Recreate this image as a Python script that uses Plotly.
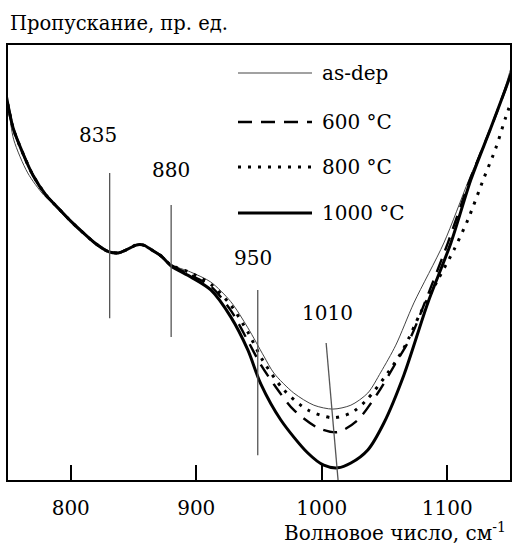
import plotly.graph_objects as go

# ---- data (wavenumber, cm^-1 ; transmittance, arb. units) ----
wn_asdep = [747, 750.6, 754.6, 765.7, 778.5, 790, 800, 810, 820, 830, 838, 845, 852, 858, 865, 872, 880,
            895.6, 911.6, 927.5, 941.1, 953.8, 961.8, 977.7, 993.7, 1008.8, 1023.2, 1036.7, 1047.1,
            1059.0, 1073.4, 1097.3, 1117.2, 1134.7, 1146.7, 1151]
tr_asdep = [91.0, 85.1, 78.2, 70.6, 65.5, 62.5, 59.5, 56.8, 54.3, 52.5, 52.2, 53.0, 54.0, 54.0, 52.8, 51.5, 49.5,
            47.8, 45.5, 41.0, 35.0, 28.5, 24.6, 20.0, 17.2, 16.3, 17.2, 20.0, 24.8,
            31.0, 40.7, 54.5, 69.0, 80.9, 90.8, 95.0]

wn_600 = [747, 754, 762, 770, 780, 790, 800, 810, 820, 830, 838, 845, 852, 858, 865, 872, 880,
          893, 911.6, 927.5, 941.1, 951.4, 961.8, 977.7, 996.9, 1012.8, 1028.7, 1044.7, 1059.0,
          1071.0, 1082.0, 1100.5, 1118.0, 1134.7, 1146.7, 1151]
tr_600 = [91.0, 81.0, 75.0, 70.0, 65.6, 62.5, 59.5, 56.8, 54.3, 52.5, 52.2, 53.0, 54.0, 54.0, 52.8, 51.5, 49.4,
          47.5, 44.5, 39.0, 32.0, 26.5, 22.0, 16.1, 12.0, 11.0, 13.8, 20.0, 26.9,
          32.9, 40.7, 54.5, 69.0, 80.9, 90.1, 93.5]

wn_800 = [747, 754, 762, 770, 780, 790, 800, 810, 820, 830, 838, 845, 852, 858, 865, 872, 880,
          895.6, 911.6, 927.5, 941.1, 953.0, 969.8, 988.9, 1008.8, 1023.2, 1035.1, 1052.6, 1065.4,
          1079.0, 1092.5, 1105.3, 1116.4, 1129.2, 1138.7, 1146.7, 1151]
tr_800 = [91.0, 81.0, 75.0, 70.0, 65.6, 62.5, 59.5, 56.8, 54.3, 52.5, 52.2, 53.0, 54.0, 54.0, 52.8, 51.5, 49.4,
          47.6, 45.0, 40.2, 34.0, 27.5, 20.7, 16.1, 14.3, 15.4, 18.2, 24.6, 30.3,
          38.6, 46.0, 52.9, 59.8, 69.4, 76.3, 83.5, 87.0]

wn_1000 = [747, 754, 762, 770, 780, 790, 800, 810, 820, 830, 838, 845, 852, 858, 865, 872, 880,
           895.6, 911.6, 927.5, 941.1, 951.4, 967.4, 988.9, 1001.6, 1012.8, 1023.2, 1036.7, 1049.5,
           1065.4, 1084.5, 1102.9, 1118.8, 1134.7, 1146.7, 1151]
tr_1000 = [91.0, 81.0, 75.0, 70.0, 65.6, 62.5, 59.5, 56.8, 54.3, 52.5, 52.2, 53.0, 54.0, 54.0, 52.8, 51.5, 49.2,
           46.7, 43.7, 37.5, 29.9, 22.1, 13.8, 6.2, 3.4, 2.8, 3.9, 6.9, 13.1,
           24.1, 40.7, 54.5, 69.0, 80.9, 90.1, 93.5]

# peak marker lines
peak_labels = ["835", "880", "950", "1010"]
peak_x_top = [831, 880, 949, 1003.5]
peak_x_bot = [831, 880, 949, 1013]
peak_y_top = [70.6, 63.2, 43.7, 31.5]
peak_y_bot = [37.2, 32.9, 5.7, 0.0]
label_x = [821.5, 879.7, 945.1, 1004.8]
label_y = [79.3, 71.3, 51.0, 38.4]

x_ticks = [800, 900, 1000, 1100]
series_names = ["as-dep", "600 °C", "800 °C", "1000 °C"]

FONT = "DejaVu Serif"
FS = 20

fig = go.Figure()

styles = [
    dict(color="#444444", width=1.0, dash="solid"),
    dict(color="#000000", width=2.4, dash="14px,9px"),
    dict(color="#000000", width=3.0, dash="3px,7px"),
    dict(color="#000000", width=3.0, dash="solid"),
]
data = [(wn_asdep, tr_asdep), (wn_600, tr_600), (wn_800, tr_800), (wn_1000, tr_1000)]
for (xs, ys), st, nm in zip(data, styles, series_names):
    fig.add_trace(go.Scatter(x=xs, y=ys, mode="lines", name=nm,
                             line=dict(color=st["color"], width=st["width"], dash=st["dash"],
                                       shape="spline", smoothing=0.8),
                             showlegend=False, hoverinfo="skip"))

for xt, xb, yt, yb in zip(peak_x_top, peak_x_bot, peak_y_top, peak_y_bot):
    fig.add_trace(go.Scatter(x=[xt, xb], y=[yt, yb], mode="lines",
                             line=dict(color="#555555", width=1.3),
                             showlegend=False, hoverinfo="skip"))

for lab, lx, ly in zip(peak_labels, label_x, label_y):
    fig.add_annotation(x=lx, y=ly, text=lab, showarrow=False,
                       font=dict(family=FONT, size=FS, color="black"))

# manual legend
L = 8
W = 502
Hh = 435
leg_x0 = (238 - L) / W
leg_x1 = (312 - L) / W
leg_tx = (320 - L) / W
leg_rows = [73, 122, 167, 213]
for nm, st, py in zip(series_names, styles, leg_rows):
    yy = (480 - py) / Hh
    fig.add_shape(type="line", xref="paper", yref="paper", x0=leg_x0, x1=leg_x1, y0=yy, y1=yy,
                  line=dict(color=st["color"], width=st["width"] if st["width"] > 1 else 1.2,
                            dash=st["dash"]))
    fig.add_annotation(xref="paper", yref="paper", x=leg_tx, y=yy, text=nm, showarrow=False,
                       xanchor="left", yanchor="middle",
                       font=dict(family=FONT, size=FS, color="black"))

# axis titles
fig.add_annotation(xref="paper", yref="paper", x=0, y=1.0, yshift=22, text="Пропускание, пр. ед.",
                   showarrow=False, xanchor="left", yanchor="middle",
                   font=dict(family=FONT, size=19.5, color="black"))
fig.add_annotation(xref="paper", yref="paper", x=1.0, y=0, yshift=-52, xshift=-2,
                   text="Волновое число, см<sup>-1</sup>",
                   showarrow=False, xanchor="right", yanchor="middle",
                   font=dict(family=FONT, size=FS, color="black"))

fig.update_layout(
    width=520, height=544,
    margin=dict(l=L, r=520 - L - W, t=45, b=544 - 45 - Hh),
    plot_bgcolor="white", paper_bgcolor="white",
    font=dict(family=FONT, size=FS, color="black"),
    xaxis=dict(range=[750, 1150], tickvals=x_ticks, ticktext=[str(v) for v in x_ticks],
               ticks="inside", ticklen=15, tickwidth=1.5, tickcolor="black",
               showline=True, linecolor="black", linewidth=1.5, mirror=True,
               showgrid=False, zeroline=False, ticklabelstandoff=9),
    yaxis=dict(range=[0, 100], showticklabels=False, ticks="",
               showline=True, linecolor="black", linewidth=1.5, mirror=True,
               showgrid=False, zeroline=False),
)

fig.write_html("out.html", config={"displayModeBar": False},
               post_script="document.body.style.margin='0';document.body.style.padding='0';")
